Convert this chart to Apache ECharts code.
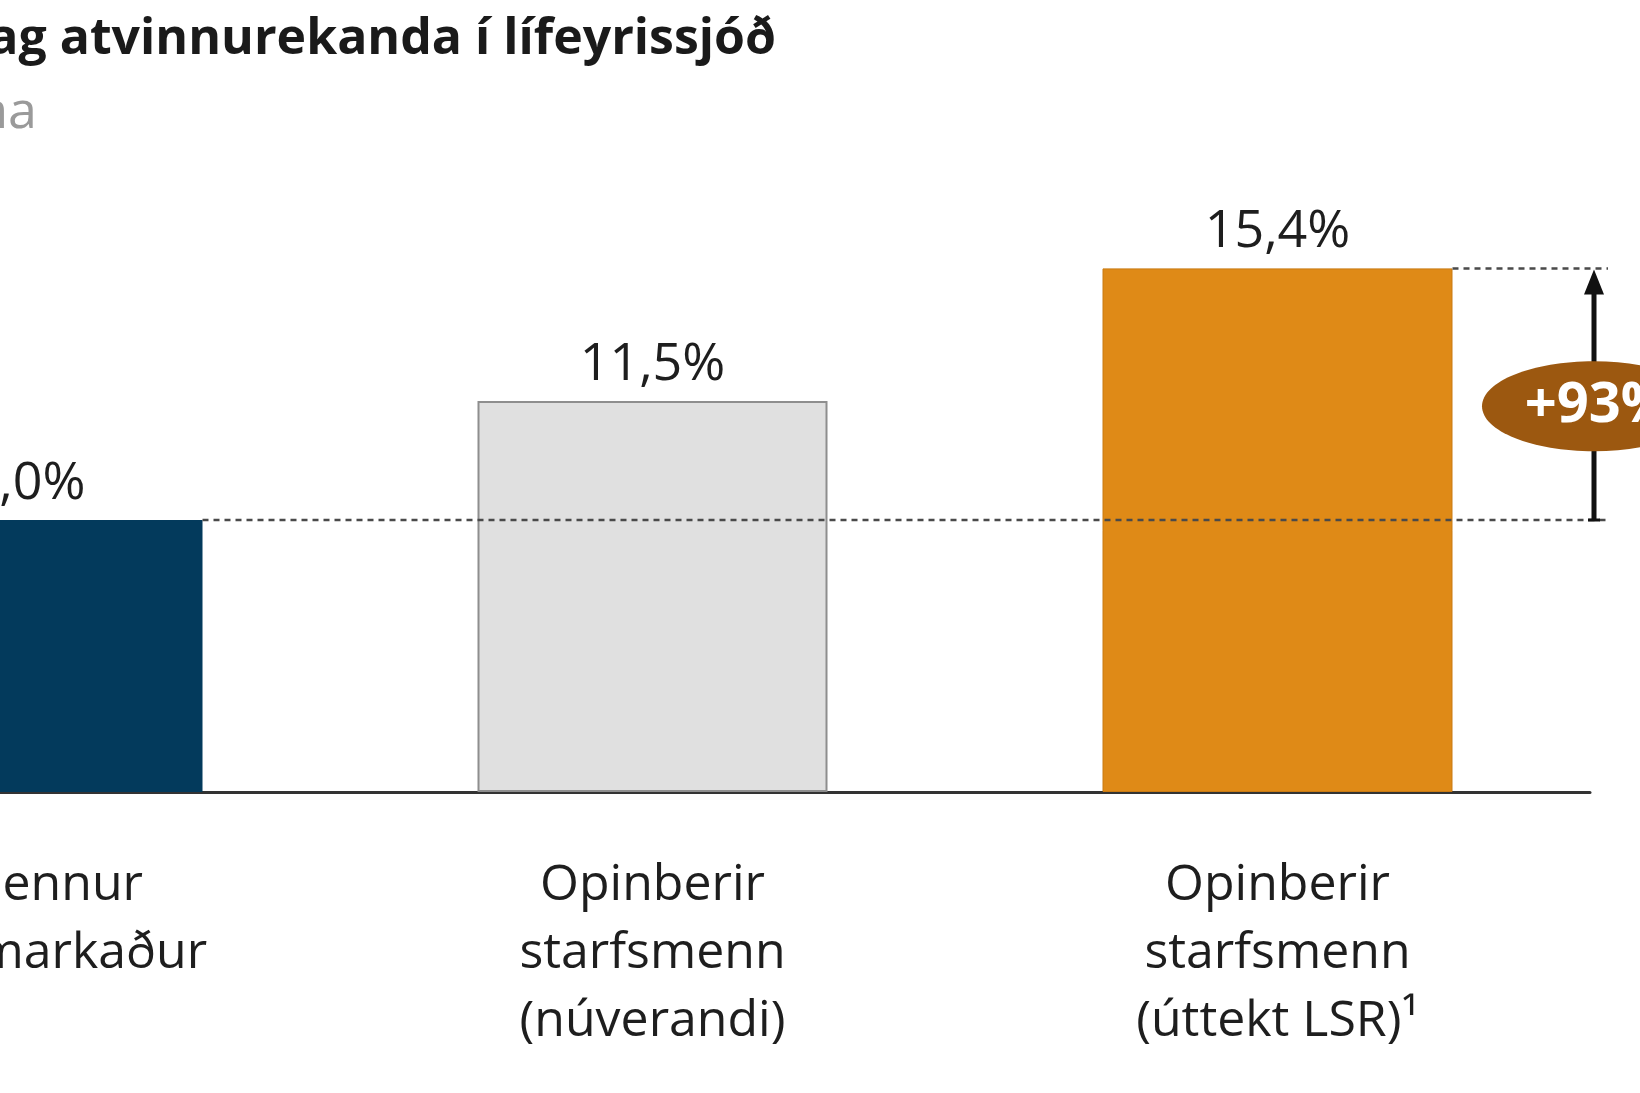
<!DOCTYPE html>
<html><head><meta charset="utf-8">
<script src="https://cdn.jsdelivr.net/npm/echarts@6/dist/echarts.min.js"></script>
<style>html,body{margin:0;padding:0;background:#fff;overflow:hidden}#c{width:1640px;height:1093px}</style>
</head><body><div id="c"></div>
<script>
const categories = ['Almennur\nvinnumarkaður', 'Opinberir\nstarfsmenn\n(núverandi)', 'Opinberir\nstarfsmenn\n(úttekt LSR)¹'];
const values = [8.0, 11.5, 15.4];
const valueLabels = ['8,0%', '11,5%', '15,4%'];
const increaseLabel = '+93%';
const titleText = 'Mótframlag atvinnurekanda í lífeyrissjóð';
const subtitleText = 'Hlutfall af launum starfsmanna';

const FONT = '"Open Sans", "Noto Sans", sans-serif';
const barStyles = [
  { color: '#033a5c' },
  { color: '#e0e0e0', borderColor: '#8e8e8e', borderWidth: 2 },
  { color: '#df8a17', borderColor: '#c97a12', borderWidth: 1 }
];

const chart = echarts.init(document.getElementById('c'), null, { renderer: 'canvas' });
const BAR_W = 350;
chart.setOption({
  animation: false,
  backgroundColor: '#ffffff',
  grid: { left: -285, top: 112, width: 1875, height: 680, containLabel: false, outerBoundsMode: 'none' },
  xAxis: {
    type: 'category',
    data: categories,
    axisLine: { lineStyle: { color: '#333333', width: 3 } },
    axisTick: { show: false },
    axisLabel: { interval: 0, fontFamily: FONT, fontSize: 50, lineHeight: 68, color: '#1e1e1e', margin: 60 }
  },
  yAxis: { type: 'value', min: 0, max: 20, show: false, splitLine: { show: false } },
  series: [{
    type: 'bar',
    barWidth: BAR_W,
    z: 2,
    data: values.map((v, i) => ({ value: v, itemStyle: barStyles[i] })),
    label: {
      show: true, position: 'top', distance: 10,
      fontFamily: FONT, fontSize: 52, color: '#1e1e1e',
      formatter: p => valueLabels[p.dataIndex]
    }
  }]
});

const y0 = chart.convertToPixel({ yAxisIndex: 0 }, values[0]);
const y2 = chart.convertToPixel({ yAxisIndex: 0 }, values[2]);
const x0 = chart.convertToPixel({ xAxisIndex: 0 }, categories[0]);
const x2 = chart.convertToPixel({ xAxisIndex: 0 }, categories[2]);
const arrowX = 1594;
const dashEnd = 1608;
const dash = { stroke: '#4a4a4a', lineWidth: 2.5, lineDash: [6, 5] };
const cy = (y0 + y2) / 2 + 12;

chart.setOption({
  graphic: [
    { type: 'text', z: 100, style: { text: titleText, x: 776, y: 40, textAlign: 'right', textVerticalAlign: 'middle', fontFamily: FONT, fontWeight: 'bold', fontSize: 50, fill: '#1a1a1a' } },
    { type: 'text', z: 100, style: { text: subtitleText, x: 37, y: 113, textAlign: 'right', textVerticalAlign: 'middle', fontFamily: FONT, fontSize: 52, fill: '#9a9a9a' } },
    { type: 'line', z: 50, shape: { x1: x0 + BAR_W / 2, y1: y0, x2: dashEnd, y2: y0 }, style: dash },
    { type: 'line', z: 50, shape: { x1: x2 + BAR_W / 2, y1: y2, x2: dashEnd, y2: y2 }, style: dash },
    { type: 'line', z: 60, shape: { x1: arrowX, y1: y0, x2: arrowX, y2: y2 + 22 }, style: { stroke: '#111111', lineWidth: 5 } },
    { type: 'line', z: 60, shape: { x1: arrowX - 6, y1: y0, x2: arrowX + 6, y2: y0 }, style: { stroke: '#111111', lineWidth: 3 } },
    { type: 'polygon', z: 61, shape: { points: [[arrowX, y2 + 1], [arrowX - 10, y2 + 26], [arrowX + 10, y2 + 26]] }, style: { fill: '#111111' } },
    { type: 'ellipse', z: 70, shape: { cx: arrowX, cy: cy, rx: 112, ry: 45 }, style: { fill: '#9c5810' } },
    { type: 'text', z: 71, style: { text: increaseLabel, x: arrowX + 4, y: cy, textAlign: 'center', textVerticalAlign: 'middle', fontFamily: FONT, fontWeight: 'bold', fontSize: 56, fill: '#ffffff' } }
  ]
});
</script></body></html>
